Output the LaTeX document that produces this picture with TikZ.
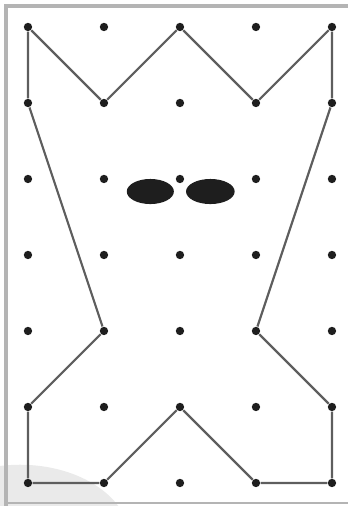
\documentclass[tikz,border=0pt]{standalone}
\usepackage{tikz}

\definecolor{FrameColor}{HTML}{B4B4B4}
\definecolor{ShadeColor}{HTML}{EAEAEA}
\definecolor{LineColor}{HTML}{5E5E5E}
\definecolor{DotColor}{HTML}{1E1E1E}

\tikzset{
  dot/.style={circle, fill=DotColor, inner sep=0pt, minimum size=1.1mm},
  outline/.style={draw=LineColor, line width=0.8pt, line join=round},
  eye/.style={fill=DotColor, draw=none}
}

\begin{document}
\begin{tikzpicture}

  %–– Marco de la imagen ––
  \def\xmin{-0.368}
  \def\xmax{4.211}
  \def\ymin{-0.303}
  \def\ymax{6.355}
  \useasboundingbox (\xmin,\ymin) rectangle (\xmax,\ymax);

  %–– Sombra abajo a la izquierda ––
  \begin{scope}
    \clip (\xmin,\ymin) rectangle (\xmax,\ymax);
    \fill[ShadeColor] (-0.105,-0.75) ellipse [x radius=1.45, y radius=0.99];
  \end{scope}

  %–– Bordes ––
  \draw[FrameColor, line width=1.6pt] (-0.29,\ymin) -- (-0.29,6.276) -- (\xmax,6.276);
  \draw[FrameColor, line width=1pt] (-0.29,-0.263) -- (\xmax,-0.263);

  %–– Puntos de la cuadrícula ––
  \foreach \i in {0,...,4}{
    \foreach \j in {0,...,6}{
      \node[dot] (d\i\j) at (\i,6-\j) {};
    }
  }

  %–– Contorno ––
  \draw[outline] (d00) -- (d11) -- (d20) -- (d31) -- (d40) -- (d41)
    -- (d34) -- (d45) -- (d46) -- (d36) -- (d25) -- (d16)
    -- (d06) -- (d05) -- (d14) -- (d01) -- (d00);

  %–– Ojos ––
  \fill[eye] (1.61,3.835) ellipse [x radius=0.31, y radius=0.165];
  \fill[eye] (2.40,3.835) ellipse [x radius=0.32, y radius=0.165];

\end{tikzpicture}
\end{document}
